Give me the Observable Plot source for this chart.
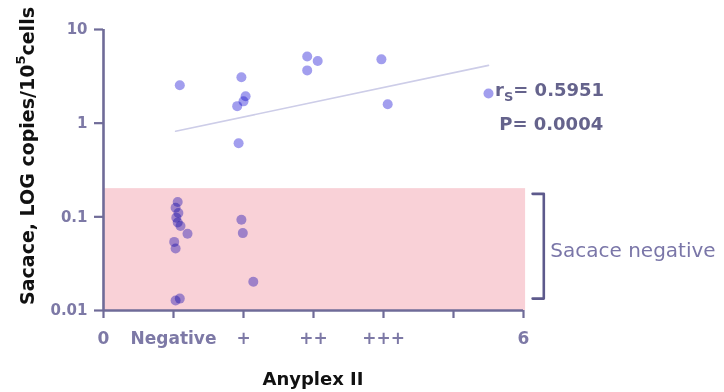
<!DOCTYPE html>
<html><head><meta charset="utf-8">
<script src="https://cdn.jsdelivr.net/npm/d3@7"></script>
<script src="https://cdn.jsdelivr.net/npm/@observablehq/plot@0.6"></script>
<style>
body{margin:0;background:#fff}
#chart svg{display:block}
</style>
</head><body><div id="chart"></div>
<script>
// ---- data ----
const xTickValues = [0, 1, 2, 3, 4, 5, 6];
const xTickLabels = ["0", "Negative", "+", "++", "+++", "", "6"];
const yTickValues = [0.01, 0.1, 1, 10];
const yTickLabels = ["0.01", "0.1", "1", "10"];
// individual samples (x = Anyplex II category with jitter, y = Sacace copies)
const pointX = [1.09, 1.06, 1.03, 1.07, 1.04, 1.06, 1.10, 1.20, 1.01, 1.03, 1.09, 1.03,
                1.97, 2.03, 2.00, 1.91, 1.93, 1.97, 1.99, 2.14,
                2.91, 3.06, 2.91,
                3.97, 4.06,
                5.50];
const pointY = [2.54, 0.144, 0.125, 0.110, 0.098, 0.087, 0.080, 0.066, 0.054, 0.046, 0.0134, 0.0128,
                3.09, 1.94, 1.71, 1.52, 0.61, 0.093, 0.067, 0.0203,
                5.16, 4.6, 3.66,
                4.8, 1.59,
                2.07];
const fitX = [1.03, 5.5];
const fitY = [0.82, 4.14];
const negativeCutoff = 0.2;
const rsValue = "= 0.5951";
const pValue = "P= 0.0004";
const bandLabel = "Sacace negative";
const xTitle = "Anyplex II";
const yTitle = "Sacace, LOG copies/10";

const points = pointX.map((x, i) => ({x, y: pointY[i]}));
const fit = fitX.map((x, i) => ({x, y: fitY[i]}));

const axisColor = "#6f6b98";
const labelColor = "#7d79a6";

const plot = Plot.plot({
  width: 724,
  height: 392,
  marginLeft: 103,
  marginRight: 201,
  marginTop: 29,
  marginBottom: 82,
  style: {fontFamily: "'DejaVu Sans', sans-serif", fontSize: "15px", background: "#fff", overflow: "visible"},
  x: {domain: [0, 6]},
  y: {type: "log", domain: [0.01, 10]},
  marks: [
    Plot.rect([{x1: 0, x2: 6.03, y1: 0.01, y2: negativeCutoff}], {x1: "x1", x2: "x2", y1: "y1", y2: "y2", fill: "#f9d1d7"}),
    Plot.line(fit, {x: "x", y: "y", stroke: "#cdcde8", strokeWidth: 1.6}),
    Plot.dot(points, {x: "x", y: "y", r: 5, fill: "#a29eee", stroke: "none", mixBlendMode: "multiply"}),
    Plot.axisX({ticks: xTickValues, tickFormat: (d) => xTickLabels[xTickValues.indexOf(d)], tickSize: 8, tickPadding: 13,
      stroke: axisColor, strokeWidth: 2.2, fill: labelColor, label: null, fontSize: 17, fontWeight: "bold"}),
    Plot.axisY({ticks: yTickValues, tickFormat: (d) => yTickLabels[yTickValues.indexOf(d)], tickSize: 9, tickPadding: 7,
      stroke: axisColor, strokeWidth: 2.2, fill: labelColor, label: null, fontSize: 15, fontWeight: "bold"}),
    Plot.ruleY([0.01], {x1: 0, x2: 6, stroke: axisColor, strokeWidth: 2.6}),
    Plot.ruleX([0], {y1: 0.01, y2: 10, stroke: axisColor, strokeWidth: 2.6}),
    // bracket for Sacace-negative band
    Plot.line([{x: 6.13, y: 0.176}, {x: 6.29, y: 0.176}, {x: 6.29, y: 0.0134}, {x: 6.13, y: 0.0134}],
      {x: "x", y: "y", stroke: "#5d5a8c", strokeWidth: 2.6, curve: "linear"})
  ]
});

const svg = d3.select(plot);
const sx = plot.scale("x"), sy = plot.scale("y");
const font = "'DejaVu Sans', sans-serif";

// y title
const yt = svg.append("text")
  .attr("transform", `translate(27,156) rotate(-90)`)
  .attr("text-anchor", "middle").attr("dominant-baseline", "central")
  .attr("font-family", font).attr("font-weight", "bold").attr("font-size", 19).attr("fill", "#111");
yt.append("tspan").text(yTitle);
yt.append("tspan").attr("font-size", 13).attr("dy", -7).text("5");
yt.append("tspan").attr("dy", 7).text("cells");

// x title
svg.append("text").attr("x", sx.apply(3)).attr("y", 385).attr("text-anchor", "middle")
  .attr("font-family", font).attr("font-weight", "bold").attr("font-size", 18).attr("fill", "#111")
  .text(xTitle);

// stats
const st = svg.append("text").attr("x", sx.apply(5.6)).attr("y", sy.apply(2.24)).attr("dy", "0.36em")
  .attr("text-anchor", "start")
  .attr("font-family", font).attr("font-weight", "bold").attr("font-size", 18).attr("fill", "#65638c");
st.append("tspan").text("r");
st.append("tspan").attr("font-size", 13).attr("dy", 5).text("S");
st.append("tspan").attr("dy", -5).text(rsValue);
svg.append("text").attr("x", sx.apply(5.66)).attr("y", sy.apply(0.976)).attr("dy", "0.36em")
  .attr("text-anchor", "start")
  .attr("font-family", font).attr("font-weight", "bold").attr("font-size", 18).attr("fill", "#65638c")
  .text(pValue);

// band label
svg.append("text").attr("x", sx.apply(6.39)).attr("y", sy.apply(0.0435)).attr("dy", "0.36em")
  .attr("text-anchor", "start")
  .attr("font-family", font).attr("font-size", 20).attr("fill", "#7a76a8")
  .text(bandLabel);

document.getElementById("chart").appendChild(plot);
</script>
</body></html>
